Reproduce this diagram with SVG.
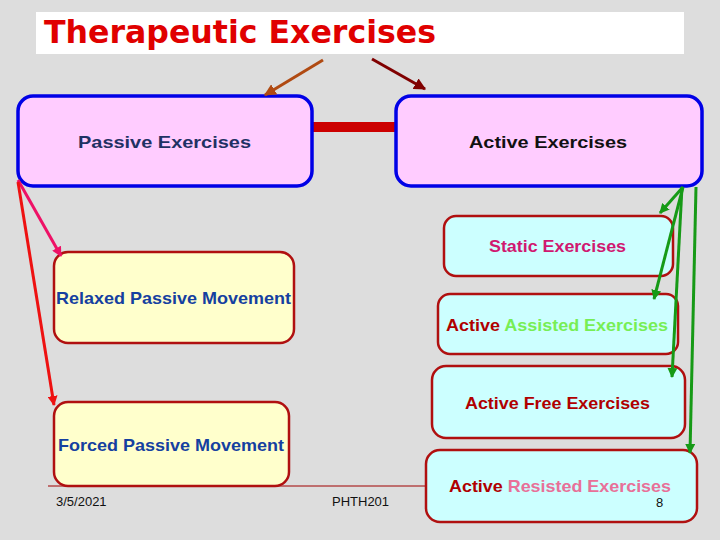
<svg xmlns="http://www.w3.org/2000/svg" width="720" height="540" viewBox="0 0 720 540">
<style>
.bl{fill:#FFCCFF;stroke:#0000E6;stroke-width:3.5}
.cy{fill:#CCFFFF;stroke:#B01010;stroke-width:2.5}
.ye{fill:#FFFFCC;stroke:#B01010;stroke-width:2.5}
.t{font-family:"Liberation Sans",Arial,sans-serif;font-weight:bold;font-size:17px}
.ft{font-family:"Liberation Sans",Arial,sans-serif;font-size:13px;fill:#111}
.g{stroke:#169A16;stroke-width:3;fill:none;marker-end:url(#mg)}
</style>
<defs>
<marker id="mg" viewBox="0 0 10 10" refX="9" refY="5" markerWidth="10" markerHeight="10" markerUnits="userSpaceOnUse" orient="auto"><path d="M0,0L10,5L0,10z" fill="#169A16"/></marker>
<marker id="mb" viewBox="0 0 10 10" refX="9" refY="5" markerWidth="12" markerHeight="12" markerUnits="userSpaceOnUse" orient="auto"><path d="M0,0L10,5L0,10z" fill="#B04A12"/></marker>
<marker id="md" viewBox="0 0 10 10" refX="9" refY="5" markerWidth="12" markerHeight="12" markerUnits="userSpaceOnUse" orient="auto"><path d="M0,0L10,5L0,10z" fill="#800000"/></marker>
<marker id="mp" viewBox="0 0 10 10" refX="9" refY="5" markerWidth="10" markerHeight="10" markerUnits="userSpaceOnUse" orient="auto"><path d="M0,0L10,5L0,10z" fill="#EE1166"/></marker>
<marker id="mr" viewBox="0 0 10 10" refX="9" refY="5" markerWidth="10" markerHeight="10" markerUnits="userSpaceOnUse" orient="auto"><path d="M0,0L10,5L0,10z" fill="#EE1111"/></marker>
</defs>
<rect width="720" height="540" fill="#DDDDDD"/>
<g id="title">
<rect x="36" y="12" width="648" height="42" fill="#FFFFFF"/>
<text x="44" y="43" font-family="'DejaVu Sans',Verdana,sans-serif" font-weight="bold" font-size="32" fill="#E00000" textLength="392" lengthAdjust="spacingAndGlyphs">Therapeutic Exercises</text>
</g>
<g id="footer">
<line x1="48" y1="486" x2="426" y2="486" stroke="#A00000" stroke-width="1"/>
<text class="ft" x="56" y="506">3/5/2021</text>
<text class="ft" x="332" y="506">PHTH201</text>
</g>
<g id="bar"><line x1="312" y1="127" x2="396" y2="127" stroke="#CC0000" stroke-width="10"/></g>
<g id="passive">
<rect class="bl" x="18" y="96" width="294" height="90" rx="15"/>
<text class="t" x="164.5" y="148" text-anchor="middle" font-size="20" fill="#1F3264" textLength="173" lengthAdjust="spacingAndGlyphs">Passive Exercises</text>
</g>
<g id="active">
<rect class="bl" x="396" y="96" width="306" height="90" rx="15"/>
<text class="t" x="548" y="148" text-anchor="middle" font-size="20" fill="#111111" textLength="158" lengthAdjust="spacingAndGlyphs">Active Exercises</text>
</g>
<g id="relaxed">
<rect class="ye" x="54" y="252" width="240" height="91" rx="14"/>
<text class="t" x="56" y="304" fill="#1540A0" textLength="235" lengthAdjust="spacingAndGlyphs">Relaxed Passive Movement</text>
</g>
<g id="forced">
<rect class="ye" x="54" y="402" width="235" height="84" rx="14"/>
<text class="t" x="58" y="451" fill="#1540A0" textLength="226" lengthAdjust="spacingAndGlyphs">Forced Passive Movement</text>
</g>
<g id="static">
<rect class="cy" x="444" y="216" width="229" height="60" rx="12"/>
<text class="t" x="489" y="252" fill="#D01870" textLength="137" lengthAdjust="spacingAndGlyphs">Static Exercises</text>
</g>
<g id="assisted">
<rect class="cy" x="438" y="294" width="240" height="60" rx="12"/>
<text class="t" x="446" y="331" textLength="222" lengthAdjust="spacingAndGlyphs"><tspan fill="#B00000">Active </tspan><tspan fill="#77EE55">Assisted Exercises</tspan></text>
</g>
<g id="free">
<rect class="cy" x="432" y="366" width="253" height="72" rx="14"/>
<text class="t" x="465" y="409" fill="#B00000" textLength="185" lengthAdjust="spacingAndGlyphs">Active Free Exercises</text>
</g>
<g id="resisted">
<rect class="cy" x="426" y="450" width="271" height="72" rx="14"/>
<text class="t" x="449" y="492" font-size="16.5" textLength="222" lengthAdjust="spacingAndGlyphs"><tspan fill="#B00000">Active </tspan><tspan fill="#E87098">Resisted Exercises</tspan></text>
<text class="ft" x="656" y="507" font-size="12">8</text>
</g>
<g id="connectors">
<line x1="323" y1="60" x2="265" y2="95" stroke="#B04A12" stroke-width="3" marker-end="url(#mb)"/>
<line x1="372" y1="59" x2="425" y2="89" stroke="#800000" stroke-width="3" marker-end="url(#md)"/>
<line x1="18" y1="180" x2="61" y2="256" stroke="#EE1166" stroke-width="3" marker-end="url(#mp)"/>
<line x1="18" y1="182" x2="54" y2="405" stroke="#EE1111" stroke-width="3" marker-end="url(#mr)"/>
<line class="g" x1="683" y1="187" x2="660" y2="213"/>
<line class="g" x1="683" y1="187" x2="654" y2="299"/>
<line class="g" x1="682" y1="187" x2="672" y2="377"/>
<line class="g" x1="696" y1="187" x2="690" y2="453"/>
</g>
</svg>
